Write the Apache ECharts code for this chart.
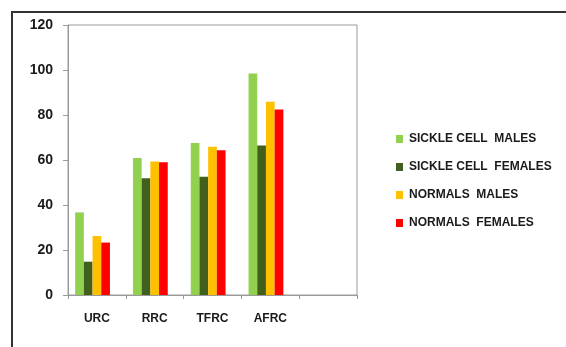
<!DOCTYPE html>
<html>
<head>
<meta charset="utf-8">
<script src="https://cdn.jsdelivr.net/npm/echarts@6/dist/echarts.min.js"></script>
<style>
html,body{margin:0;padding:0;background:#fff;}
#chart{width:566px;height:347px;}
</style>
</head>
<body>
<div id="chart"></div>
<script>
var categories = ['URC', 'RRC', 'TFRC', 'AFRC', ''];
var sickleMales = [36.7, 60.9, 67.6, 98.5];
var sickleFemales = [14.8, 51.9, 52.6, 66.5];
var normalsMales = [26.2, 59.3, 65.9, 85.9];
var normalsFemales = [23.3, 59.0, 64.3, 82.5];
var seriesNames = ['SICKLE CELL  MALES', 'SICKLE CELL  FEMALES', 'NORMALS  MALES', 'NORMALS  FEMALES'];
var yTicks = [0, 20, 40, 60, 80, 100, 120];

var colors = ['#92D050', '#41601E', '#FFC000', '#FF0000'];
var font = 'Liberation Sans, Arial, sans-serif';
var chart = echarts.init(document.getElementById('chart'));
var data = [sickleMales, sickleFemales, normalsMales, normalsFemales];
var series = data.map(function (d, i) {
  return {
    name: seriesNames[i], type: 'bar', data: d, barWidth: 8.7, barGap: '0%',
    itemStyle: { color: colors[i] }, animation: false
  };
});
series.push({ name: 'spacer', type: 'bar', data: [], barWidth: 8.7, barGap: '0%', animation: false });

chart.setOption({
  animation: false,
  grid: { left: 68, right: 209, top: 25, bottom: 52, show: true, borderColor: '#9a9a9a', borderWidth: 1, containLabel: false },
  graphic: [{ type: 'rect', shape: { x: 12, y: 12, width: 700, height: 500 }, style: { fill: 'none', stroke: '#333', lineWidth: 2 }, silent: true, z: 100 }],
  legend: {
    data: seriesNames, orient: 'vertical', left: 391, top: 128, itemWidth: 7, itemHeight: 8, itemGap: 16,
    icon: 'rect',
    textStyle: { fontFamily: font, fontWeight: 'bold', fontSize: 12, color: '#1a1a1a', padding: [0, 0, 0, 1] }
  },
  xAxis: {
    type: 'category', data: categories,
    axisLine: { lineStyle: { color: '#9a9a9a', width: 1 } },
    axisTick: { show: true, length: 4, alignWithLabel: false, lineStyle: { color: '#9a9a9a' } },
    axisLabel: { fontFamily: font, fontWeight: 'bold', fontSize: 12, color: '#1a1a1a', margin: 18 }
  },
  yAxis: {
    type: 'value', min: 0, max: 120, interval: 20,
    axisLine: { show: true, lineStyle: { color: '#9a9a9a', width: 1 } },
    axisTick: { show: true, length: 5, lineStyle: { color: '#9a9a9a' } },
    splitLine: { show: false },
    axisLabel: { fontFamily: font, fontWeight: 'bold', fontSize: 14, color: '#1a1a1a', margin: 15,
      formatter: function (v) { return yTicks.indexOf(v) >= 0 ? String(v) : ''; } }
  },
  series: series
});
</script>
</body>
</html>
